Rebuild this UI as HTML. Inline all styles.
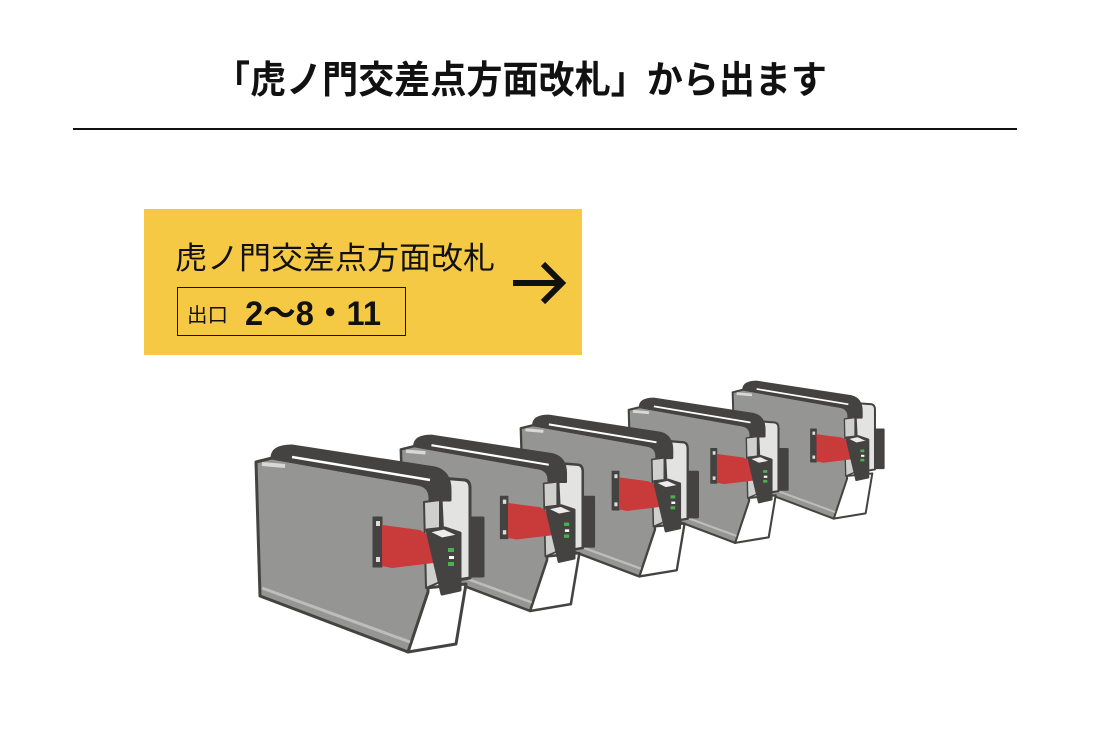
<!DOCTYPE html>
<html><head><meta charset="utf-8"><style>
html,body{margin:0;padding:0;background:#fff;}
svg{display:block}
text{font-family:"Liberation Sans","Noto Sans CJK JP",sans-serif;}
</style></head><body>
<svg width="1097" height="734" viewBox="0 0 1097 734" xmlns="http://www.w3.org/2000/svg">
<defs>
<g id="gate" stroke="#444341" stroke-width="3" stroke-linejoin="round">
  <rect x="466" y="518" width="17" height="58" fill="#444341"/>
  <path d="M440,478 L465,480 Q470,481 470,488 L470,578 L445,582 Z" fill="#e3e4e2"/>
  <path d="M425,588 L466,584 L456,644 L408,652 Z" fill="#fff"/>
  <path d="M256,462 L272,458 L418,484 Q430,486 430,498 L428,592 L408,652 L260,596 Z" fill="#959694"/>
  <path d="M262,588 L410,642" stroke="#bdbebc" stroke-width="3" fill="none"/>
  <path d="M262,464 L285,466" stroke="#d8d8d6" stroke-width="4" fill="none"/>
  <path d="M272,458 Q272,446 292,446 L435,468 Q450,472 450,490 L450,500 L432,500 Q430,486 418,484 Z" fill="#444341"/>
  <path d="M292,457 L430,480" stroke="#fff" stroke-width="2.5" fill="none"/>
  <path d="M424,502 L440,500 L440,582 L426,588 Z" fill="#cfd0ce" stroke-width="2"/>
  <rect x="373" y="517" width="9" height="50" fill="#444341" stroke-width="1"/>
  <rect x="376" y="521" width="4" height="5" fill="#ddd" stroke="none"/>
  <rect x="376" y="557" width="4" height="5" fill="#ddd" stroke="none"/>
  <path d="M382,525 L420,530 L445,546 L442,562 L392,568 L382,566 Z" fill="#c93a3a" stroke="none"/>
  <path d="M427,530 L445,528 L460,533 L460,590 L442,594 Z" fill="#444341"/>
  <path d="M430,532 L444,529 L457,535 L442,538 Z" fill="#ececec" stroke-width="1"/>
  <rect x="448" y="548" width="6" height="4" fill="#4caf50" stroke="none"/>
  <rect x="448" y="562" width="6" height="4" fill="#4caf50" stroke="none"/>
  <rect x="449" y="556" width="5" height="3" fill="#fff" stroke="none"/>
</g>
</defs>

<text x="214" y="93" font-size="38" font-weight="bold" fill="#111" textLength="613" lengthAdjust="spacingAndGlyphs">「虎ノ門交差点方面改札」から出ます</text>
<rect x="73" y="128" width="944" height="2" fill="#111"/>

<rect x="144" y="209" width="438" height="146" fill="#f6c945"/>
<text x="175" y="269" font-size="31" fill="#111" textLength="320" lengthAdjust="spacingAndGlyphs">虎ノ門交差点方面改札</text>
<rect x="177.5" y="287.5" width="228" height="48" fill="none" stroke="#111" stroke-width="1"/>
<text x="187" y="322" font-size="20" fill="#111" textLength="41" lengthAdjust="spacingAndGlyphs">出口</text>
<text x="245" y="325" font-size="34" font-weight="bold" fill="#111" textLength="136" lengthAdjust="spacingAndGlyphs">2〜8・11</text>
<path d="M513,283 L560,283 M543,264 L562,283 L543,302" stroke="#111" stroke-width="6" fill="none"/>

<use href="#gate" transform="translate(732,381) scale(0.665) translate(-255,-445)"/>
<use href="#gate" transform="translate(628,398) scale(0.70) translate(-255,-445)"/>
<use href="#gate" transform="translate(520,415) scale(0.78) translate(-255,-445)"/>
<use href="#gate" transform="translate(400,435) scale(0.85) translate(-255,-445)"/>
<use href="#gate"/>
</svg>
</body></html>
